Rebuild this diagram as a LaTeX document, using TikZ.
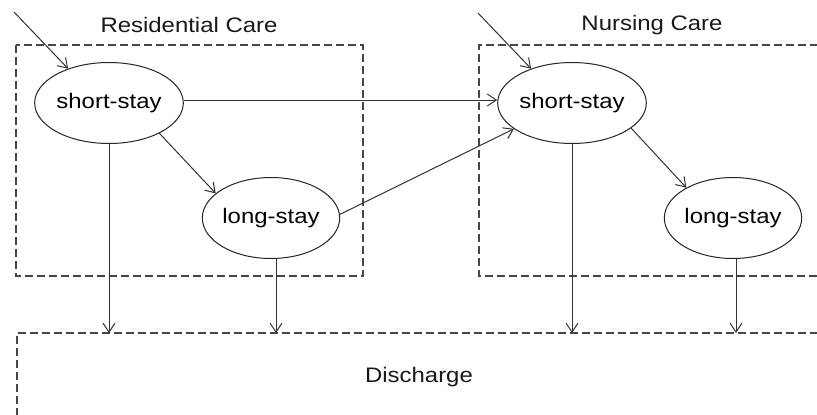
\documentclass[tikz,border=0pt]{standalone}
\usepackage{fontspec}
\setmainfont{Liberation Sans}[FakeStretch=1.14]
\usetikzlibrary{shapes.geometric,arrows.meta}
\begin{document}
\begin{tikzpicture}[x=1pt,y=-1pt,
  line width=1pt,
  arr/.style={draw=black!80,-{Straight Barb[length=9pt,width=12pt,line width=1pt]}},
  state/.style={ellipse,draw=black!85,inner sep=0pt,minimum width=129pt,minimum height=81pt,font=\fontsize{21}{24}\selectfont},
  groupbox/.style={draw=black!72,line width=1.2pt,dash pattern=on 8pt off 4pt},
  title/.style={font=\fontsize{21}{24}\selectfont,text=black!90}]
\clip (0,0) rectangle (817,415);
\fill[white] (0,0) rectangle (817,415);
% group boxes
\draw[groupbox] (16,45) rectangle (363,276);
\draw[groupbox] (830,45) -- (479,45) -- (479,276) -- (830,276);
\draw[groupbox] (830,333) -- (17,333) -- (17,430);
\coordinate (dtop) at (0,333);
% titles
\node[title] (tres) at (189,25) {Residential Care};
\node[title] (tnur) at (652,25) {Nursing Care};
\node[title] (tdis) at (419,377) {Discharge};
% states
\node[state] (ssL) at (109,103) {short-stay};
\node[state] (lsL) at (271,218) {long-stay};
\node[state] (ssR) at (572,103) {short-stay};
\node[state] (lsR) at (733,218) {long-stay};
% entry points
\coordinate (inL) at (14,12);
\coordinate (inR) at (478,13);
\draw[arr] (inL) -- (ssL.140);
\draw[arr] (inR) -- (ssR.140);
% transitions
\draw[arr] ([yshift=3pt]ssL.east) -- ([yshift=3pt]ssR.west);
\draw[arr] (ssL.-31) -- (lsL.156);
\draw[arr] (lsL.3) -- (ssR.-156);
\draw[arr] (ssR.-23) -- (lsR.147);
% discharge
\draw[arr] (ssL.south) -- (ssL.south |- dtop);
\draw[arr] ([xshift=5pt]lsL.south) -- ([xshift=5pt]lsL.south |- dtop);
\draw[arr] (ssR.south) -- (ssR.south |- dtop);
\draw[arr] ([xshift=3pt]lsR.south) -- ([xshift=3pt]lsR.south |- dtop);
\end{tikzpicture}
\end{document}
